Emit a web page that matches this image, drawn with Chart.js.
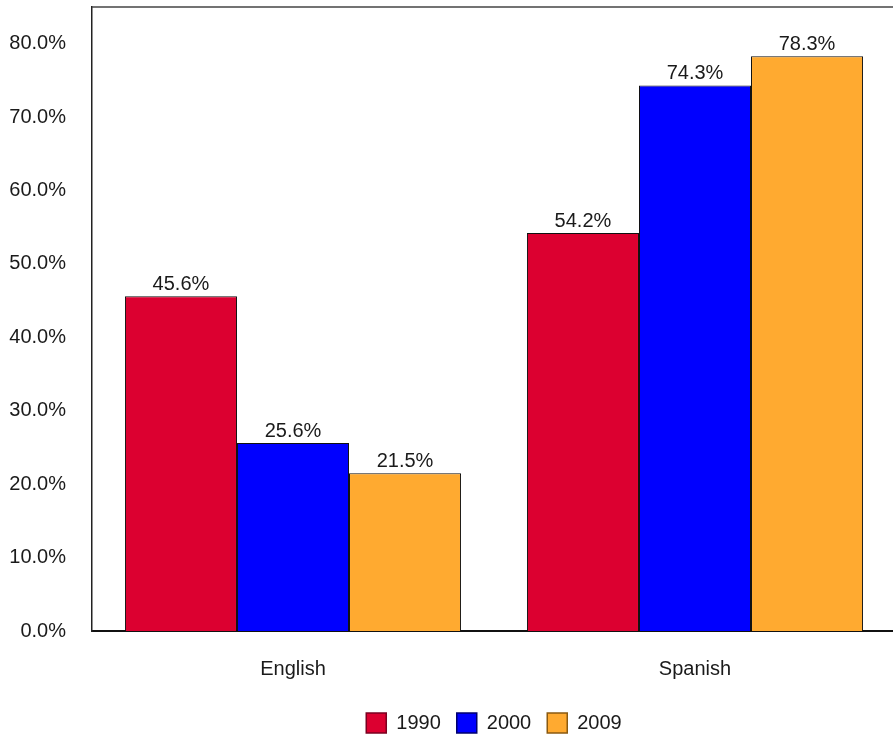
<!DOCTYPE html>
<html lang="en">
<head>
    <meta charset="UTF-8">
    <title>Language share by year</title>
    <style>
        html, body { margin: 0; padding: 0; background: #fff; overflow: hidden; }
        #chart { display: block; }
    </style>
</head>
<body>
    <canvas id="chart" width="900" height="738"></canvas>

    <script src="https://cdn.jsdelivr.net/npm/chart.js"></script>
    <script>
        // data
        const categories = ['English', 'Spanish'];
        const years = ['1990', '2000', '2009'];
        const values1990 = [45.6, 54.2];
        const values2000 = [25.6, 74.3];
        const values2009 = [21.5, 78.3];
        const yTicks = [0, 10, 20, 30, 40, 50, 60, 70, 80];

        const fillColors = ['#dc0030', '#0000ff', '#ffaa30'];
        const legendBorders = ['#7a0020', '#00006e', '#8a5a10'];
        const fontFamily = '"Liberation Sans", Arial, sans-serif';
        const textColor = '#1a1a1a';

        // value labels above each bar
        const barLabels = {
            id: 'barLabels',
            afterDatasetsDraw(chart) {
                const ctx = chart.ctx;
                ctx.save();
                ctx.font = '20px ' + fontFamily;
                ctx.fillStyle = textColor;
                ctx.textAlign = 'center';
                ctx.textBaseline = 'bottom';
                chart.data.datasets.forEach((ds, i) => {
                    chart.getDatasetMeta(i).data.forEach((bar, j) => {
                        ctx.fillText(ds.data[j].toFixed(1) + '%', bar.x, bar.y - 2);
                    });
                });
                ctx.restore();
            }
        };

        // top frame line of the plot box
        const topFrame = {
            id: 'topFrame',
            afterDraw(chart) {
                const a = chart.chartArea;
                const ctx = chart.ctx;
                ctx.save();
                ctx.strokeStyle = '#444';
                ctx.lineWidth = 1.5;
                ctx.beginPath();
                ctx.moveTo(a.left, a.top);
                ctx.lineTo(a.right + 10, a.top);
                ctx.stroke();
                ctx.restore();
            }
        };

        const datasets = [values1990, values2000, values2009].map((vals, i) => ({
            label: years[i],
            data: vals,
            backgroundColor: fillColors[i],
            borderColor: '#111',
            borderWidth: 1,
            categoryPercentage: 0.836,
            barPercentage: 1.0
        }));

        new Chart(document.getElementById('chart'), {
            type: 'bar',
            data: { labels: categories, datasets: datasets },
            plugins: [barLabels, topFrame],
            options: {
                responsive: false,
                animation: false,
                layout: { padding: { left: 9, right: 4, top: 7, bottom: -5 } },
                plugins: {
                    tooltip: { enabled: false },
                    legend: {
                        position: 'bottom',
                        fullSize: false,
                        labels: {
                            boxWidth: 20,
                            boxHeight: 20,
                            padding: 16,
                            color: textColor,
                            font: { family: fontFamily, size: 20 },
                            generateLabels(chart) {
                                return chart.data.datasets.map((ds, i) => ({
                                    text: ds.label,
                                    fillStyle: fillColors[i],
                                    strokeStyle: legendBorders[i],
                                    lineWidth: 1.5,
                                    fontColor: textColor,
                                    datasetIndex: i
                                }));
                            }
                        }
                    }
                },
                scales: {
                    x: {
                        grid: { display: false, drawTicks: false },
                        border: { color: '#111', width: 2 },
                        afterFit(scale) {
                            scale.height -= 10;
                            scale.paddingLeft = 0;
                            scale.paddingRight = 0;
                        },
                        ticks: {
                            padding: 26,
                            color: textColor,
                            font: { family: fontFamily, size: 20 }
                        }
                    },
                    y: {
                        min: 0,
                        max: 85,
                        grid: { display: false, drawTicks: false },
                        border: { color: '#222', width: 1.5 },
                        afterBuildTicks(scale) {
                            scale.ticks = yTicks.map(v => ({ value: v }));
                        },
                        afterFit(scale) {
                            scale.width = 83;
                            scale.paddingTop = 0;
                            scale.paddingBottom = 0;
                        },
                        ticks: {
                            padding: 26,
                            color: textColor,
                            font: { family: fontFamily, size: 20 },
                            callback: v => v.toFixed(1) + '%'
                        }
                    }
                }
            }
        });
    </script>
</body>
</html>
